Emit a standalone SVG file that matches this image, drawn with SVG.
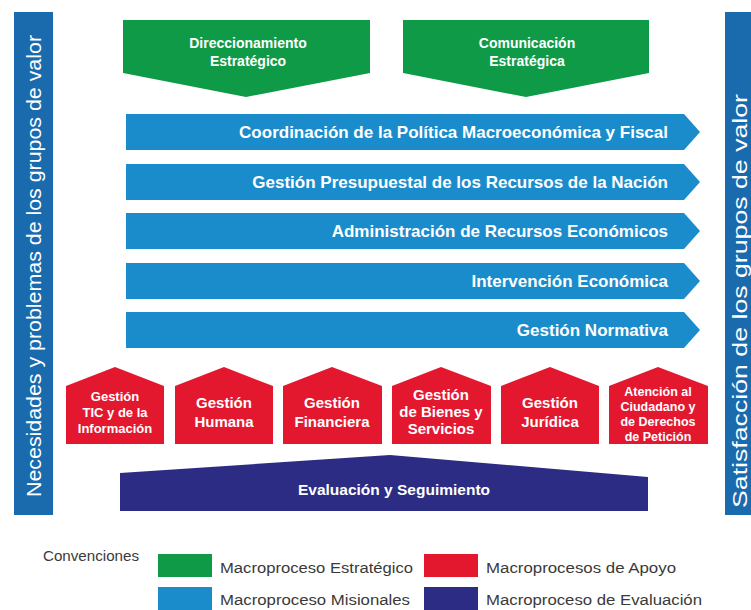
<svg xmlns="http://www.w3.org/2000/svg" width="751" height="610" viewBox="0 0 751 610">
  <style>
    .bar { fill: #1a6aae; }
    .bar-text { fill: #ffffff; font-family: "Liberation Sans", Arial, sans-serif; font-size: 20.5px; text-anchor: middle; }
    .strat { fill: #0f9a48; }
    .mision { fill: #1b8ccb; }
    .apoyo { fill: #e3182f; }
    .eval { fill: #2c2c84; }
    .lbl { fill: #ffffff; font-family: "Liberation Sans", Arial, sans-serif; font-weight: bold; text-anchor: middle; }
    .lbl-m { fill: #ffffff; font-family: "Liberation Sans", Arial, sans-serif; font-weight: bold; font-size: 17px; text-anchor: end; }
    .legend { fill: #3a3a3a; font-family: "Liberation Sans", Arial, sans-serif; font-size: 14px; }
  </style>

  <rect width="751" height="610" fill="#ffffff"/>

  <!-- side bars -->
  <g id="needs">
    <rect class="bar" x="14" y="12" width="39" height="503"/>
    <text class="bar-text" transform="translate(41,266) rotate(-90)" textLength="462" lengthAdjust="spacingAndGlyphs">Necesidades y problemas de los grupos de valor</text>
  </g>
  <g id="satisfaction">
    <rect class="bar" x="725" y="12" width="26" height="503"/>
    <text class="bar-text" transform="translate(747,301) rotate(-90)" textLength="414" lengthAdjust="spacingAndGlyphs">Satisfacción de los grupos de valor</text>
  </g>

  <!-- strategic processes -->
  <g id="direccionamiento">
    <polygon class="strat" points="123,20 370,20 370,73 246,97 123,73"/>
    <text class="lbl" font-size="14" x="248" y="48">Direccionamiento</text>
    <text class="lbl" font-size="14" x="248" y="66">Estratégico</text>
  </g>
  <g id="comunicacion">
    <polygon class="strat" points="403,20 649,20 649,73 526,97 403,73"/>
    <text class="lbl" font-size="14" x="527" y="48">Comunicación</text>
    <text class="lbl" font-size="14" x="527" y="66">Estratégica</text>
  </g>

  <!-- mission processes -->
  <g id="coordinacion">
    <polygon class="mision" points="126,114 684,114 700,132 684,150 126,150"/>
    <text class="lbl-m" x="668" y="138">Coordinación de la Política Macroeconómica y Fiscal</text>
  </g>
  <g id="presupuestal">
    <polygon class="mision" points="126,164 684,164 700,182 684,200 126,200"/>
    <text class="lbl-m" x="668" y="188">Gestión Presupuestal de los Recursos de la Nación</text>
  </g>
  <g id="administracion">
    <polygon class="mision" points="126,213 684,213 700,231 684,249 126,249"/>
    <text class="lbl-m" x="668" y="237">Administración de Recursos Económicos</text>
  </g>
  <g id="intervencion">
    <polygon class="mision" points="126,263 684,263 700,281 684,299 126,299"/>
    <text class="lbl-m" x="668" y="287">Intervención Económica</text>
  </g>
  <g id="normativa">
    <polygon class="mision" points="126,312 684,312 700,330 684,348 126,348"/>
    <text class="lbl-m" x="668" y="336">Gestión Normativa</text>
  </g>

  <!-- support processes -->
  <g id="tic">
    <polygon class="apoyo" points="66,386 115,367 164,386 164,444 66,444"/>
    <text class="lbl" font-size="13" x="115" y="401">Gestión</text>
    <text class="lbl" font-size="13" x="115" y="417">TIC y de la</text>
    <text class="lbl" font-size="13" x="115" y="433">Información</text>
  </g>
  <g id="humana">
    <polygon class="apoyo" points="175,386 224,367 273,386 273,444 175,444"/>
    <text class="lbl" font-size="15" x="224" y="408">Gestión</text>
    <text class="lbl" font-size="15" x="224" y="427">Humana</text>
  </g>
  <g id="financiera">
    <polygon class="apoyo" points="283,386 332,367 382,386 382,444 283,444"/>
    <text class="lbl" font-size="15" x="332" y="408">Gestión</text>
    <text class="lbl" font-size="15" x="332" y="427">Financiera</text>
  </g>
  <g id="bienes">
    <polygon class="apoyo" points="392,386 441,367 491,386 491,444 392,444"/>
    <text class="lbl" font-size="15" x="441" y="400">Gestión</text>
    <text class="lbl" font-size="15" x="441" y="417">de Bienes y</text>
    <text class="lbl" font-size="15" x="441" y="434">Servicios</text>
  </g>
  <g id="juridica">
    <polygon class="apoyo" points="501,386 550,367 599,386 599,444 501,444"/>
    <text class="lbl" font-size="15" x="550" y="408">Gestión</text>
    <text class="lbl" font-size="15" x="550" y="427">Jurídica</text>
  </g>
  <g id="atencion">
    <polygon class="apoyo" points="609,386 658,367 708,386 708,444 609,444"/>
    <text class="lbl" font-size="12.5" x="658" y="396">Atención al</text>
    <text class="lbl" font-size="12.5" x="658" y="411">Ciudadano y</text>
    <text class="lbl" font-size="12.5" x="658" y="426">de Derechos</text>
    <text class="lbl" font-size="12.5" x="658" y="441">de Petición</text>
  </g>

  <!-- evaluation process -->
  <g id="evaluacion">
    <polygon class="eval" points="120,473 390,455 648,477 648,511 120,511"/>
    <text class="lbl" font-size="15.5" x="394" y="495">Evaluación y Seguimiento</text>
  </g>

  <!-- no connectors are drawn between the process shapes -->
  <g id="connectors"/>

  <!-- key -->
  <g id="legend">
    <text class="legend" x="43" y="561" textLength="96" lengthAdjust="spacingAndGlyphs">Convenciones</text>
    <rect x="158" y="554" width="54" height="23" fill="#0f9a48"/>
    <text class="legend" x="220" y="573" textLength="193" lengthAdjust="spacingAndGlyphs">Macroproceso Estratégico</text>
    <rect x="424" y="554" width="54" height="23" fill="#e3182f"/>
    <text class="legend" x="486" y="573" textLength="190" lengthAdjust="spacingAndGlyphs">Macroprocesos de Apoyo</text>
    <rect x="158" y="587" width="54" height="23" fill="#1b8ccb"/>
    <text class="legend" x="220" y="605" textLength="190" lengthAdjust="spacingAndGlyphs">Macroproceso Misionales</text>
    <rect x="424" y="587" width="54" height="23" fill="#2c2c84"/>
    <text class="legend" x="486" y="605" textLength="216" lengthAdjust="spacingAndGlyphs">Macroproceso de Evaluación</text>
  </g>
</svg>
